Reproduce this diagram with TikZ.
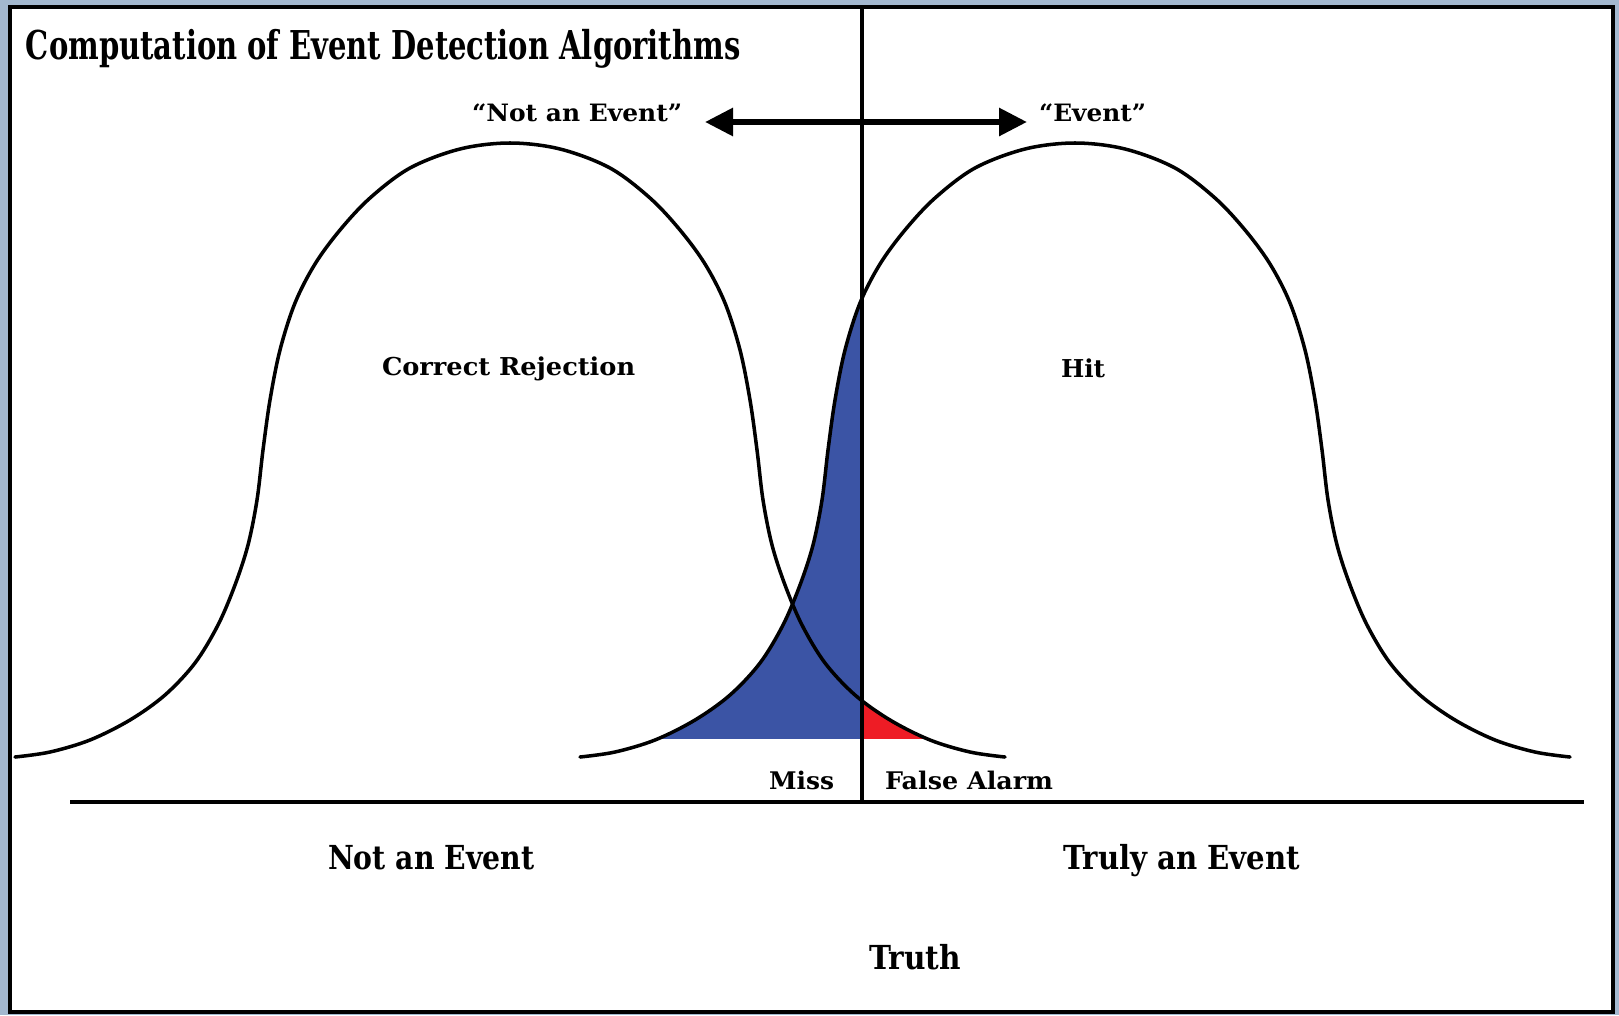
\documentclass[tikz,border=0pt]{standalone}
\usepackage{fontspec}
\setmainfont{DejaVu Serif}
\usetikzlibrary{arrows.meta}
\definecolor{missblue}{HTML}{3B54A5}
\definecolor{farred}{HTML}{EE1C25}
\definecolor{edgeblue}{HTML}{A3B8CF}
\newcommand{\fitlbl}[3]{\resizebox{#1}{\height}{\fontsize{#2}{#2}\selectfont\bfseries #3}}
\def\LC{plot[smooth, tension=0.55] coordinates {(15,757) (50,752) (90,740) (130,720) (165,695) (195,663) (218,625) (235,585) (248,545) (257,500) (263,450) (270,400) (280,350) (295,303) (315,264) (340,230) (370,198) (410,168) (460,149) (510,143) (560,149) (610,168) (650,198) (680,230) (705,264) (725,303) (740,350) (750,400) (757,450) (763,500) (772,545) (785,585) (802,625) (825,663) (855,695) (890,720) (930,740) (970,752) (1005,757)}}
\def\RC{plot[smooth, tension=0.55] coordinates {(580,757) (615,752) (655,740) (695,720) (730,695) (760,663) (783,625) (800,585) (813,545) (822,500) (828,450) (835,400) (845,350) (860,303) (880,264) (905,230) (935,198) (975,168) (1025,149) (1075,143) (1125,149) (1175,168) (1215,198) (1245,230) (1270,264) (1290,303) (1305,350) (1315,400) (1322,450) (1328,500) (1337,545) (1350,585) (1367,625) (1390,663) (1420,695) (1455,720) (1495,740) (1535,752) (1570,757)}}
\begin{document}
\begin{tikzpicture}[x=0.01cm,y=-0.01cm,
  lbl/.style={anchor=base west, inner sep=0pt, outer sep=0pt, text=black},
  curve/.style={line width=1pt, black, line join=round, line cap=round},
  axisline/.style={line width=1.4pt, black},
  divider/.style={line width=1.15pt, black},
  decision/.style={line width=1.7pt, black, {Triangle[length=0.28cm,width=0.27cm]}-{Triangle[length=0.28cm,width=0.27cm]}},
]
\useasboundingbox (0,0) rectangle (1619,1015);
\fill[edgeblue] (0,0) rectangle (1619,1015);
\draw[line width=0.9pt, fill=white] (10,7) rectangle (1613,1012);

% shaded areas
\begin{scope}
  \clip (0,0) rectangle (862,738);
  \fill[missblue] \RC -- cycle;
\end{scope}
\begin{scope}
  \clip (862,0) rectangle (1619,738);
  \fill[farred] \LC -- cycle;
\end{scope}

% curves
\draw[curve] \LC;
\draw[curve] \RC;

% lines
\coordinate (vtop) at (862,7);
\coordinate (vbot) at (862,802);
\coordinate (axl) at (70,802);
\coordinate (axr) at (1584,802);
\coordinate (al) at (705,122);
\coordinate (ar) at (1027,122);
\draw[divider] (vtop) -- (vbot);
\draw[axisline] (axl) -- (axr);
\draw[decision] (al) -- (ar);

% labels
\node[lbl] (title) at (26,59) {\fitlbl{7.14cm}{11.3pt}{Computation of Event Detection Algorithms}};
\node[lbl] (qnot) at (472,121) {\fitlbl{2.10cm}{6.8pt}{“Not an Event”}};
\node[lbl] (qev) at (1039,121) {\fitlbl{1.07cm}{6.8pt}{“Event”}};
\node[lbl] (cr) at (382,375) {\fitlbl{2.53cm}{7pt}{Correct Rejection}};
\node[lbl] (hit) at (1061,377) {\fitlbl{0.44cm}{7pt}{Hit}};
\node[lbl] (miss) at (769,789) {\fitlbl{0.65cm}{6.9pt}{Miss}};
\node[lbl] (fa) at (885,789) {\fitlbl{1.68cm}{6.9pt}{False Alarm}};
\node[lbl] (nae) at (328,869) {\fitlbl{2.06cm}{9.4pt}{Not an Event}};
\node[lbl] (tae) at (1063,869) {\fitlbl{2.37cm}{9.4pt}{Truly an Event}};
\node[lbl] (truth) at (869,969) {\fitlbl{0.92cm}{9.4pt}{Truth}};
\end{tikzpicture}
\end{document}
